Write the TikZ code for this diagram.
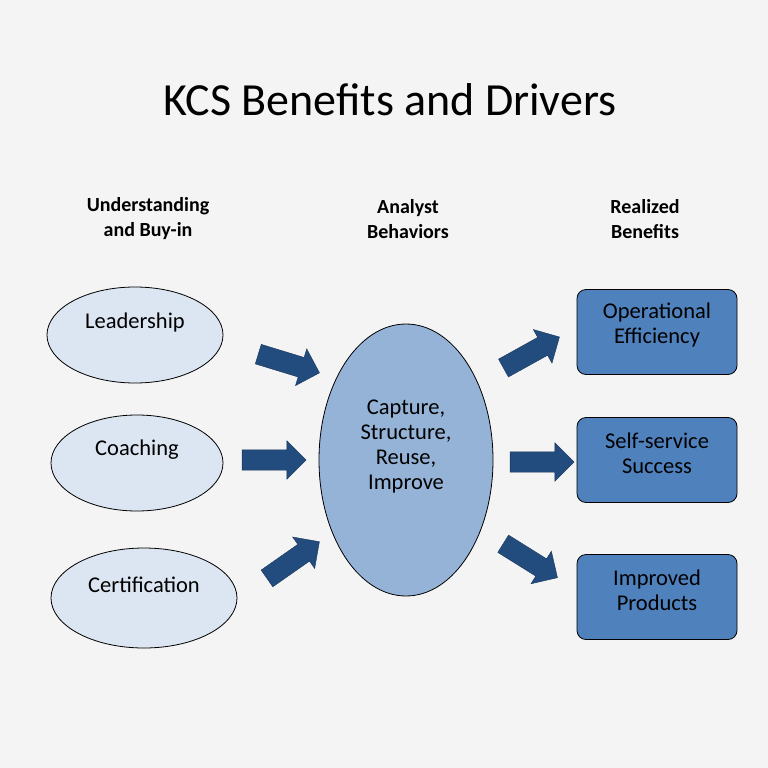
\documentclass[tikz,border=0pt]{standalone}
\usepackage{fontspec}
\setmainfont{Carlito}
\usetikzlibrary{shapes.geometric,shapes.arrows}
\definecolor{bgGray}{HTML}{F4F4F4}
\definecolor{lightBlue}{HTML}{DCE6F2}
\definecolor{midBlue}{HTML}{95B3D7}
\definecolor{boxBlue}{HTML}{4F81BD}
\definecolor{arrowBlue}{HTML}{234C7E}
\tikzset{
  driver/.style={ellipse, draw=black, fill=lightBlue, line width=0.8pt},
  label/.style={font=\fontsize{22.5}{25}\selectfont},
  benefit/.style={rectangle, rounded corners=9pt, draw=black, fill=boxBlue, line width=0.8pt,
    minimum width=160pt, minimum height=85pt},
  head/.style={font=\bfseries\fontsize{20}{25}\selectfont, align=center},
  push/.style={single arrow, fill=arrowBlue, draw=arrowBlue!70!black, inner xsep=0pt,
    inner ysep=10pt, minimum height=64pt, single arrow head extend=9pt}
}
\begin{document}
\begin{tikzpicture}[x=1pt,y=-1pt]
    \fill[bgGray] (0,0) rectangle (768,768);
    \useasboundingbox (0,0) rectangle (768,768);

    \node (title) at (390,100) {\fontsize{46}{52}\selectfont KCS Benefits and Drivers};

    \node[head] (h1) at (148,219) {Understanding\\and Buy-in};
    \node[head] (h2) at (408,219) {Analyst\\Behaviors};
    \node[head] (h3) at (645,219) {Realized\\Benefits};

    \node[driver, minimum width=176pt, minimum height=96pt] (lead) at (135,335) {};
    \node[label] (leadtext) at (135,322) {Leadership};
    \node[driver, minimum width=172pt, minimum height=96pt] (coach) at (137,463) {};
    \node[label] (coachtext) at (137,450) {Coaching};
    \node[driver, minimum width=186pt, minimum height=100pt] (cert) at (144,598) {};
    \node[label] (certtext) at (144,585) {Certification};

    \node[ellipse, draw=black, fill=midBlue, line width=0.8pt, minimum width=174pt,
      minimum height=272pt] (core) at (406,460) {};
    \node[label, align=center] (coretext) at (406,447) {Capture,\\Structure,\\Reuse,\\Improve};

    \node[benefit] (ops) at (657,332) {};
    \node[label, align=center] (opstext) at (657,325) {Operational\\Efficiency};
    \node[benefit] (self) at (657,460) {};
    \node[label, align=center] (selftext) at (657,453) {Self-service\\Success};
    \node[benefit] (prod) at (657,597) {};
    \node[label, align=center] (prodtext) at (657,590) {Improved\\Products};

    \node[push, rotate=-17] (a1) at (284,362) {};
    \node[push] (a2) at (269,460) {};
    \node[push, rotate=35] (a3) at (289,563) {};
    \node[push, rotate=29] (a4) at (527,355) {};
    \node[push] (a5) at (537,462) {};
    \node[push, rotate=-32] (a6) at (526,558) {};
\end{tikzpicture}
\end{document}
